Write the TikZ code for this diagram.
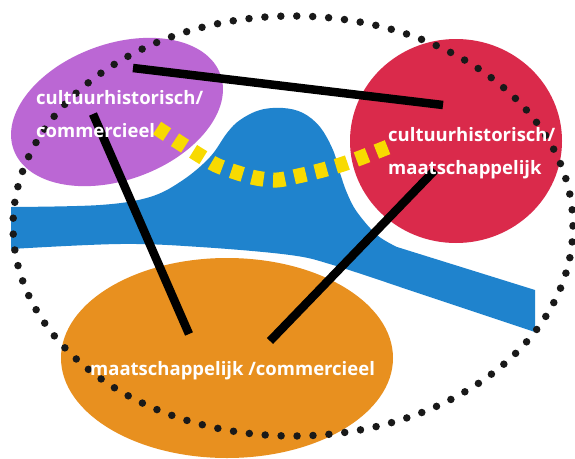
\documentclass[tikz,border=0pt]{standalone}
\usepackage{fontspec}
\setmainfont{Open Sans}
\definecolor{river}{HTML}{1F83CD}
\definecolor{lilac}{HTML}{BB67D4}
\definecolor{crimson}{HTML}{DA2A4B}
\definecolor{amber}{HTML}{E8901F}
\definecolor{sun}{HTML}{F8DA00}
\begin{document}
\begin{tikzpicture}[x=1pt,y=-1pt,
  lbl/.style={text=white, font=\bfseries\fontsize{18.5}{20}\selectfont, inner sep=0pt, anchor=base west},
  link/.style={line width=8.5pt, black},
  trail/.style={sun, line width=15pt, dash pattern=on 12pt off 9.5pt},
  border/.style={line width=7.5pt, line cap=round, dash pattern=on 0pt off 15.95pt, black!90}]
\useasboundingbox (0,0) rectangle (575,458);
\fill[white] (0,0) rectangle (575,458);

% river
\fill[river] (11,207) -- (11,249)
  -- plot[smooth,tension=0.6] coordinates {(11,249) (120,244) (200,247) (290,255) (333,265) (400,287)}
  -- (535,332) -- (535,290) -- (397,247)
  -- plot[smooth,tension=0.6] coordinates {(397,247) (377,235) (357,212) (347,193) (340,173) (333,150) (320,127) (303,113) (283,108) (260,110) (240,120) (227,133) (210,157) (183,180) (150,197) (100,205) (11,207)}
  -- cycle;

% three domains
\fill[lilac, rotate around={20:(117,112)}] (117,112) ellipse [x radius=110, y radius=68];
\fill[crimson] (456,141) ellipse [x radius=106, y radius=102];
\fill[amber] (227,358) ellipse [x radius=166, y radius=100];

% dashed trail across the river
\draw[trail] plot[smooth] coordinates {(157,128) (180,143) (199,155) (216,165) (235,172) (256,178) (277,180) (298,176) (319,171) (340,165) (360,158) (388,147)};

% links between the domains
\coordinate (p1) at (133,68);  \coordinate (q1) at (443,105);
\coordinate (p2) at (93,114);  \coordinate (q2) at (189,334);
\coordinate (p3) at (435,170); \coordinate (q3) at (270,341);
\draw[link] (p1) -- (q1);
\draw[link] (p2) -- (q2);
\draw[link] (p3) -- (q3);

% dotted boundary
\draw[border] (293,226) ellipse [x radius=280, y radius=210];

% labels
\node[lbl] (a1) at (36,104) {cultuurhistorisch/};
\node[lbl] (a2) at (36,137) {commercieel};
\node[lbl] (b1) at (388,141) {cultuurhistorisch/};
\node[lbl] (b2) at (388,174) {maatschappelijk};
\node[lbl] (c1) at (90,375) {maatschappelijk /commercieel};
\end{tikzpicture}
\end{document}
